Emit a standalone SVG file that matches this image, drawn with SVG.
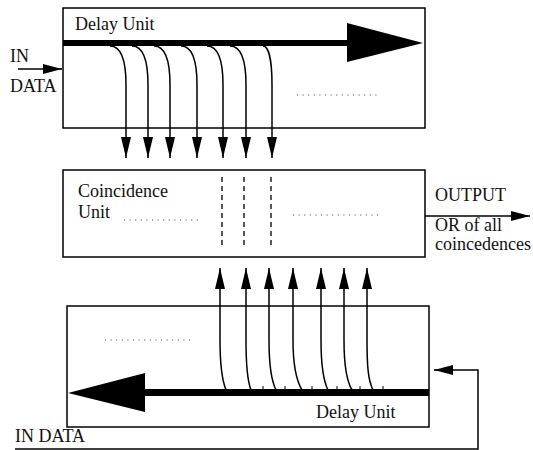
<svg xmlns="http://www.w3.org/2000/svg" width="533" height="450" viewBox="0 0 533 450">
<style>
.box{fill:#fff;stroke:#000;stroke-width:1.5}
.t{font-size:18px;fill:#111}
.ln{fill:none;stroke:#000;stroke-width:1.5}
.dot{fill:none;stroke:#444;stroke-width:1;stroke-dasharray:1 4.6}
.dash{fill:none;stroke:#000;stroke-width:1.3;stroke-dasharray:5 4}
</style>
<defs>
<marker id="ah" viewBox="0 0 21 10" refX="21" refY="5" markerWidth="21" markerHeight="10" markerUnits="userSpaceOnUse" orient="auto">
<path d="M0,0 L21,5 L0,10 z" fill="#000"/>
</marker>
<marker id="ahs" viewBox="0 0 19 10" refX="19" refY="5" markerWidth="19" markerHeight="10" markerUnits="userSpaceOnUse" orient="auto">
<path d="M0,0 L19,5 L0,10 z" fill="#000"/>
</marker>
</defs>
<g font-family="'Liberation Serif', 'Times New Roman', 'DejaVu Serif', serif">
<g id="top-delay">
<rect class="box" x="63" y="8" width="362" height="120"/>
<text class="t" x="75" y="30">Delay Unit</text>
<rect x="63" y="40" width="285" height="6" fill="#000"/>
<polygon points="347,23 423,43 347,62" fill="#000"/>
<line class="dot" x1="297" y1="95" x2="380" y2="95"/>
</g>

<g id="coincidence">
<rect class="box" x="63" y="170" width="362" height="87"/>
<text class="t" x="78" y="197">Coincidence</text>
<text class="t" x="78" y="218">Unit</text>
<line class="dot" x1="124" y1="220" x2="202" y2="220"/>
<line class="dot" x1="293" y1="215" x2="380" y2="215"/>
<line class="dash" x1="222" y1="177" x2="222" y2="246"/>
<line class="dash" x1="244" y1="177" x2="244" y2="246"/>
<line class="dash" x1="271" y1="177" x2="271" y2="246"/>
</g>

<g id="bottom-delay">
<rect class="box" x="67" y="306" width="362" height="121"/>
<text class="t" x="316" y="418">Delay Unit</text>
<rect x="144" y="389" width="285" height="7" fill="#000"/>
<polygon points="145,373 68,393 145,412" fill="#000"/>
<line class="dot" x1="105" y1="340" x2="194" y2="340"/>
<g stroke="#000" stroke-width="1">
<line x1="263" y1="386" x2="263" y2="389"/><line x1="285" y1="386" x2="285" y2="389"/><line x1="312" y1="386" x2="312" y2="389"/><line x1="337" y1="386" x2="337" y2="389"/><line x1="360" y1="386" x2="360" y2="389"/><line x1="383" y1="386" x2="383" y2="389"/>
</g>
</g>

<g id="labels">
<text class="t" x="10" y="62">IN</text>
<text class="t" x="10" y="92">DATA</text>
<text class="t" x="435" y="201">OUTPUT</text>
<text class="t" x="435" y="231">OR of all</text>
<text class="t" x="435" y="250">coincedences</text>
<text class="t" x="15" y="442">IN DATA</text>
</g>
</g>

<g id="connectors">
<line class="ln" x1="18" y1="69" x2="62" y2="69" marker-end="url(#ahs)"/>
<line class="ln" x1="425" y1="216" x2="530" y2="216" marker-end="url(#ahs)"/>
<polyline class="ln" points="15,449 478,449 478,370 434,370" marker-end="url(#ahs)"/>

<path class="ln" d="M110,46 C120,46 126,58 126,85 L126,158" marker-end="url(#ah)"/>
<path class="ln" d="M132,46 C142,46 148,58 148,85 L148,158" marker-end="url(#ah)"/>
<path class="ln" d="M154,46 C164,46 170,58 170,85 L170,158" marker-end="url(#ah)"/>
<path class="ln" d="M181,46 C191,46 197,58 197,85 L197,158" marker-end="url(#ah)"/>
<path class="ln" d="M207,46 C217,46 223,58 223,85 L223,158" marker-end="url(#ah)"/>
<path class="ln" d="M230,46 C240,46 246,58 246,85 L246,158" marker-end="url(#ah)"/>
<path class="ln" d="M263,46 C268,46 272,58 272,85 L272,158" marker-end="url(#ah)"/>

<path class="ln" d="M226,390 C222,380 220,365 220,340 L220,268" marker-end="url(#ah)"/>
<path class="ln" d="M251,390 C247,380 246,365 246,340 L246,268" marker-end="url(#ah)"/>
<path class="ln" d="M276,390 C271,380 269,365 269,340 L269,268" marker-end="url(#ah)"/>
<path class="ln" d="M302,390 C296,380 293,365 293,340 L293,268" marker-end="url(#ah)"/>
<path class="ln" d="M328,390 C323,380 321,365 321,340 L321,268" marker-end="url(#ah)"/>
<path class="ln" d="M352,390 C346,380 344,365 344,340 L344,268" marker-end="url(#ah)"/>
<path class="ln" d="M373,390 C368,380 367,365 367,340 L367,268" marker-end="url(#ah)"/>
</g>
</svg>
